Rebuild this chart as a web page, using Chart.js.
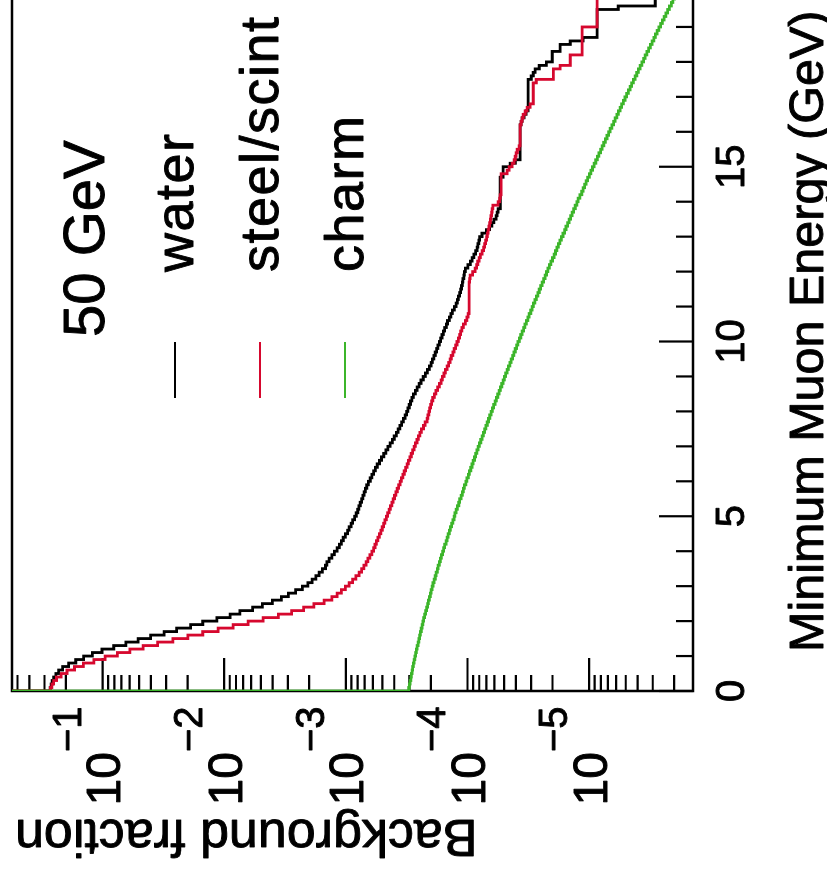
<!DOCTYPE html>
<html lang="en">
<head>
<meta charset="UTF-8">
<title>Background fraction vs minimum muon energy</title>
<style>
    html, body {
        margin: 0;
        padding: 0;
        background: #fff;
        overflow: hidden;
    }

    body {
        width: 827px;
        height: 873px;
        position: relative;
    }

    /* the plot is drawn upright, then turned a quarter turn like the scanned page */
    .plot {
        position: absolute;
        left: 0;
        top: 0;
        width: 900px;
        height: 827px;
        transform-origin: 0 0;
        transform: translate(0, 873px) rotate(-90deg);
    }
</style>
<script src="https://cdn.jsdelivr.net/npm/chart.js"></script>
</head>
<body>
<div class="plot"><canvas id="chart" width="900" height="827"></canvas></div>

<script>
    // Cumulative background fraction per 0.1 GeV bin of minimum muon energy (0 .. 20 GeV)
    const binWidth = 0.1;
    const underflowFraction = 1.0; // everything passes below the first bin

    const water = [
        0.274, 0.269, 0.265, 0.259, 0.252, 0.242, 0.230, 0.213, 0.190, 0.166,
        0.143, 0.121, 0.101, 0.0809, 0.0642, 0.0509, 0.0403, 0.0312, 0.0246, 0.0189,
        0.0150, 0.0115, 8.94e-3, 7.43e-3, 5.83e-3, 4.85e-3, 4.01e-3, 3.39e-3, 2.97e-3, 2.59e-3,
        2.28e-3, 2.05e-3, 1.89e-3, 1.76e-3, 1.66e-3, 1.56e-3, 1.47e-3, 1.43e-3, 1.37e-3, 1.30e-3,
        1.24e-3, 1.18e-3, 1.13e-3, 1.09e-3, 1.05e-3, 1.01e-3, 9.68e-4, 9.38e-4, 9.06e-4, 8.78e-4,
        8.48e-4, 8.21e-4, 7.98e-4, 7.80e-4, 7.61e-4, 7.43e-4, 7.25e-4, 7.07e-4, 6.90e-4, 6.73e-4,
        6.52e-4, 6.30e-4, 6.10e-4, 5.90e-4, 5.71e-4, 5.52e-4, 5.29e-4, 5.09e-4, 4.88e-4, 4.69e-4,
        4.51e-4, 4.32e-4, 4.15e-4, 4.00e-4, 3.84e-4, 3.72e-4, 3.60e-4, 3.48e-4, 3.37e-4, 3.26e-4,
        3.17e-4, 3.09e-4, 3.01e-4, 2.94e-4, 2.86e-4, 2.78e-4, 2.68e-4, 2.59e-4, 2.50e-4, 2.41e-4,
        2.31e-4, 2.22e-4, 2.14e-4, 2.06e-4, 1.99e-4, 1.94e-4, 1.89e-4, 1.84e-4, 1.79e-4, 1.75e-4,
        1.70e-4, 1.66e-4, 1.62e-4, 1.58e-4, 1.54e-4, 1.49e-4, 1.46e-4, 1.41e-4, 1.37e-4, 1.33e-4,
        1.28e-4, 1.24e-4, 1.21e-4, 1.19e-4, 1.16e-4, 1.14e-4, 1.12e-4, 1.10e-4, 1.09e-4, 1.07e-4,
        1.06e-4, 1.04e-4, 9.91e-5, 9.47e-5, 9.15e-5, 8.86e-5, 8.56e-5, 8.32e-5, 8.20e-5, 8.06e-5,
        7.94e-5, 7.60e-5, 6.99e-5, 6.59e-5, 6.31e-5, 6.06e-5, 5.81e-5, 5.70e-5, 5.59e-5, 5.38e-5,
        5.38e-5, 5.38e-5, 5.38e-5, 5.38e-5, 5.38e-5, 5.38e-5, 5.38e-5, 5.38e-5, 5.09e-5, 5.09e-5,
        5.09e-5, 4.46e-5, 4.05e-5, 3.69e-5, 3.69e-5, 3.69e-5, 3.69e-5, 3.69e-5, 3.69e-5, 3.69e-5,
        3.69e-5, 3.69e-5, 3.69e-5, 3.62e-5, 3.55e-5, 3.42e-5, 3.29e-5, 3.17e-5, 3.17e-5, 3.17e-5,
        3.17e-5, 3.17e-5, 3.17e-5, 3.17e-5, 3.17e-5, 3.17e-5, 2.99e-5, 2.88e-5, 2.78e-5, 2.57e-5,
        2.25e-5, 2.01e-5, 2.01e-5, 2.01e-5, 1.73e-5, 1.73e-5, 1.43e-5, 1.12e-5, 8.58e-6, 8.58e-6,
        8.58e-6, 8.58e-6, 8.58e-6, 8.58e-6, 8.58e-6, 8.58e-6, 5.76e-6, 2.86e-6, 2.86e-6, 2.86e-6
    ];

    const steelScint = [
        0.274, 0.268, 0.261, 0.252, 0.239, 0.219, 0.196, 0.170, 0.144, 0.118,
        0.0954, 0.0756, 0.0597, 0.0464, 0.0352, 0.0264, 0.0199, 0.0150, 0.0112, 8.45e-3,
        6.36e-3, 4.79e-3, 3.58e-3, 2.79e-3, 2.22e-3, 1.83e-3, 1.51e-3, 1.30e-3, 1.18e-3, 1.09e-3,
        1.01e-3, 9.41e-4, 8.81e-4, 8.28e-4, 7.79e-4, 7.43e-4, 7.11e-4, 6.82e-4, 6.58e-4, 6.35e-4,
        6.12e-4, 5.92e-4, 5.76e-4, 5.60e-4, 5.46e-4, 5.30e-4, 5.16e-4, 5.02e-4, 4.89e-4, 4.77e-4,
        4.64e-4, 4.53e-4, 4.41e-4, 4.31e-4, 4.19e-4, 4.09e-4, 3.98e-4, 3.88e-4, 3.78e-4, 3.68e-4,
        3.58e-4, 3.49e-4, 3.40e-4, 3.31e-4, 3.22e-4, 3.14e-4, 3.06e-4, 2.98e-4, 2.90e-4, 2.82e-4,
        2.75e-4, 2.68e-4, 2.60e-4, 2.53e-4, 2.46e-4, 2.39e-4, 2.30e-4, 2.23e-4, 2.15e-4, 2.12e-4,
        2.08e-4, 2.05e-4, 2.01e-4, 1.97e-4, 1.93e-4, 1.87e-4, 1.82e-4, 1.76e-4, 1.70e-4, 1.65e-4,
        1.61e-4, 1.56e-4, 1.52e-4, 1.47e-4, 1.43e-4, 1.39e-4, 1.36e-4, 1.32e-4, 1.29e-4, 1.25e-4,
        1.22e-4, 1.19e-4, 1.16e-4, 1.14e-4, 1.11e-4, 1.08e-4, 1.04e-4, 1.01e-4, 9.87e-5, 9.68e-5,
        9.68e-5, 9.68e-5, 9.68e-5, 9.68e-5, 9.68e-5, 9.68e-5, 9.68e-5, 9.68e-5, 9.59e-5, 9.50e-5,
        9.06e-5, 8.64e-5, 8.42e-5, 8.23e-5, 8.03e-5, 7.83e-5, 7.57e-5, 7.37e-5, 7.23e-5, 7.10e-5,
        6.97e-5, 6.85e-5, 6.76e-5, 6.67e-5, 6.58e-5, 6.49e-5, 6.42e-5, 6.34e-5, 6.27e-5, 6.18e-5,
        5.59e-5, 5.44e-5, 5.38e-5, 5.28e-5, 5.28e-5, 5.28e-5, 5.28e-5, 5.28e-5, 5.28e-5, 4.72e-5,
        4.54e-5, 4.29e-5, 4.13e-5, 4.05e-5, 3.98e-5, 3.90e-5, 3.76e-5, 3.69e-5, 3.69e-5, 3.69e-5,
        3.69e-5, 3.69e-5, 3.69e-5, 3.62e-5, 3.55e-5, 3.48e-5, 3.35e-5, 3.23e-5, 3.05e-5, 2.88e-5,
        2.88e-5, 2.88e-5, 2.88e-5, 2.88e-5, 2.88e-5, 2.72e-5, 1.97e-5, 1.97e-5, 1.97e-5, 1.73e-5,
        1.43e-5, 1.43e-5, 1.43e-5, 1.14e-5, 1.14e-5, 1.14e-5, 1.14e-5, 1.14e-5, 1.14e-5, 1.14e-5,
        1.14e-5, 8.58e-6, 8.58e-6, 8.58e-6, 8.58e-6, 8.58e-6, 8.58e-6, 8.58e-6, 8.58e-6, 8.58e-6
    ];

    const charm = [
        3.08e-4, 3.04e-4, 3.00e-4, 2.96e-4, 2.92e-4, 2.89e-4, 2.85e-4, 2.82e-4, 2.78e-4, 2.75e-4,
        2.71e-4, 2.67e-4, 2.63e-4, 2.59e-4, 2.55e-4, 2.51e-4, 2.47e-4, 2.44e-4, 2.40e-4, 2.36e-4,
        2.33e-4, 2.29e-4, 2.25e-4, 2.21e-4, 2.17e-4, 2.13e-4, 2.10e-4, 2.06e-4, 2.02e-4, 1.99e-4,
        1.95e-4, 1.92e-4, 1.88e-4, 1.84e-4, 1.81e-4, 1.77e-4, 1.74e-4, 1.70e-4, 1.67e-4, 1.64e-4,
        1.60e-4, 1.57e-4, 1.54e-4, 1.50e-4, 1.47e-4, 1.44e-4, 1.41e-4, 1.38e-4, 1.35e-4, 1.32e-4,
        1.29e-4, 1.27e-4, 1.24e-4, 1.21e-4, 1.18e-4, 1.16e-4, 1.13e-4, 1.10e-4, 1.08e-4, 1.06e-4,
        1.03e-4, 1.01e-4, 9.85e-5, 9.63e-5, 9.40e-5, 9.18e-5, 8.97e-5, 8.76e-5, 8.56e-5, 8.36e-5,
        8.17e-5, 7.97e-5, 7.78e-5, 7.59e-5, 7.41e-5, 7.23e-5, 7.05e-5, 6.88e-5, 6.72e-5, 6.56e-5,
        6.40e-5, 6.24e-5, 6.09e-5, 5.93e-5, 5.79e-5, 5.64e-5, 5.50e-5, 5.37e-5, 5.23e-5, 5.10e-5,
        4.98e-5, 4.85e-5, 4.73e-5, 4.61e-5, 4.49e-5, 4.38e-5, 4.26e-5, 4.16e-5, 4.05e-5, 3.95e-5,
        3.85e-5, 3.75e-5, 3.65e-5, 3.55e-5, 3.46e-5, 3.37e-5, 3.28e-5, 3.19e-5, 3.11e-5, 3.02e-5,
        2.94e-5, 2.87e-5, 2.79e-5, 2.71e-5, 2.64e-5, 2.57e-5, 2.50e-5, 2.43e-5, 2.37e-5, 2.30e-5,
        2.24e-5, 2.18e-5, 2.12e-5, 2.06e-5, 2.00e-5, 1.94e-5, 1.89e-5, 1.84e-5, 1.79e-5, 1.74e-5,
        1.69e-5, 1.64e-5, 1.59e-5, 1.55e-5, 1.50e-5, 1.46e-5, 1.42e-5, 1.38e-5, 1.34e-5, 1.30e-5,
        1.26e-5, 1.23e-5, 1.19e-5, 1.15e-5, 1.12e-5, 1.09e-5, 1.06e-5, 1.03e-5, 9.95e-6, 9.66e-6,
        9.38e-6, 9.10e-6, 8.82e-6, 8.56e-6, 8.30e-6, 8.05e-6, 7.81e-6, 7.58e-6, 7.35e-6, 7.13e-6,
        6.92e-6, 6.71e-6, 6.50e-6, 6.30e-6, 6.11e-6, 5.92e-6, 5.74e-6, 5.57e-6, 5.40e-6, 5.23e-6,
        5.07e-6, 4.91e-6, 4.76e-6, 4.61e-6, 4.47e-6, 4.33e-6, 4.19e-6, 4.06e-6, 3.93e-6, 3.81e-6,
        3.69e-6, 3.57e-6, 3.46e-6, 3.35e-6, 3.24e-6, 3.14e-6, 3.04e-6, 2.94e-6, 2.85e-6, 2.76e-6,
        2.67e-6, 2.58e-6, 2.50e-6, 2.42e-6, 2.34e-6, 2.26e-6, 2.19e-6, 2.11e-6, 2.05e-6, 1.98e-6
    ];

    // axis ticks and labels
    const energyMajorTicks = [0, 5, 10, 15, 20];
    const energyTickLabels = ['0', '5', '10', '15'];
    const fractionDecades = [-1, -2, -3, -4, -5];
    const fractionTickLabels = ['\u22121', '\u22122', '\u22123', '\u22124', '\u22125'];

    const legendHeader = '50 GeV';
    const seriesNames = ['water', 'steel/scint', 'charm'];
    const seriesColors = ['#000000', '#d6082e', '#3cb52a'];

    const FONT = '"Liberation Sans", Arial, Helvetica, sans-serif';

    // bin low edges, then one closing point so the last bin gets its full width
    function histPoints(values) {
        const pts = [{ x: 0, y: underflowFraction }];
        values.forEach((v, i) => pts.push({ x: +(i * binWidth).toFixed(1), y: v }));
        pts.push({ x: +(values.length * binWidth).toFixed(1), y: values[values.length - 1] });
        return pts;
    }

    // fill plus a thin outline, the scanned lettering is a bit heavier than plain Liberation
    function heavyText(ctx, txt, x, y) {
        ctx.fillText(txt, x, y);
        ctx.strokeText(txt, x, y);
    }

    // ROOT style frame: ticks pointing into the frame
    const frameAndTicks = {
        id: 'frameAndTicks',
        beforeDatasetsDraw(chart) {
            const { ctx, chartArea: a, scales: { x, y } } = chart;
            ctx.save();
            ctx.strokeStyle = '#000';
            ctx.lineWidth = 2.5;
            ctx.strokeRect(a.left, a.top, a.right - a.left, a.bottom - a.top);

            ctx.lineWidth = 2.2;
            ctx.beginPath();
            for (let e = x.min; e <= x.max; e++) {
                const px = x.getPixelForValue(e);
                const len = energyMajorTicks.includes(e) ? 34 : 17;
                ctx.moveTo(px, a.bottom);
                ctx.lineTo(px, a.bottom - len);
            }
            for (let p = -7; p <= 0; p++) {
                for (let k = 1; k <= 9; k++) {
                    const v = k * Math.pow(10, p);
                    if (v < y.min || v > y.max) continue;
                    const py = y.getPixelForValue(v);
                    const len = k === 1 ? 33 : 16;
                    ctx.moveTo(a.left, py);
                    ctx.lineTo(a.left + len, py);
                }
            }
            ctx.stroke();
            ctx.restore();
        },
        afterDraw(chart) {
            const { ctx, chartArea: a, scales: { x, y } } = chart;
            ctx.save();
            ctx.fillStyle = '#000';
            ctx.strokeStyle = '#000';
            ctx.lineWidth = 0.9;
            ctx.lineJoin = 'round';

            // energy labels
            ctx.font = '40px ' + FONT;
            ctx.textAlign = 'center';
            ctx.textBaseline = 'alphabetic';
            energyTickLabels.forEach((lab, i) => {
                heavyText(ctx, lab, x.getPixelForValue(energyMajorTicks[i]), a.bottom + 51);
            });

            // 10^n labels
            fractionDecades.forEach((d, i) => {
                const py = y.getPixelForValue(Math.pow(10, d));
                const split = a.left - 61;
                ctx.font = '48px ' + FONT;
                ctx.textAlign = 'right';
                heavyText(ctx, '10', split, py + 17.5);
                ctx.font = '40px ' + FONT;
                ctx.textAlign = 'left';
                heavyText(ctx, fractionTickLabels[i], split, py - 22);
            });

            // axis titles
            ctx.font = '48.5px ' + FONT;
            ctx.textAlign = 'left';
            heavyText(ctx, 'Minimum Muon Energy (GeV)', 221, 823);

            ctx.save();
            ctx.translate(53, 15);
            ctx.rotate(-Math.PI / 2);
            ctx.font = '52px ' + FONT;
            ctx.textAlign = 'right';
            heavyText(ctx, 'Background fraction', 0, 0);
            ctx.restore();

            // legend
            ctx.font = '58px ' + FONT;
            ctx.textAlign = 'left';
            heavyText(ctx, legendHeader, 536, 104);
            ctx.font = '54px ' + FONT;
            ctx.letterSpacing = '1.5px';
            seriesNames.forEach((name, i) => {
                const ly = 175 + i * 85;
                ctx.save();
                ctx.strokeStyle = seriesColors[i];
                ctx.lineWidth = 2.2;
                ctx.beginPath();
                ctx.moveTo(475, ly);
                ctx.lineTo(531, ly);
                ctx.stroke();
                ctx.restore();
                heavyText(ctx, name, 601, ly + 18);
            });
            ctx.restore();
        }
    };

    const seriesValues = [water, steelScint, charm];

    new Chart(document.getElementById('chart'), {
        type: 'line',
        data: {
            datasets: seriesValues.map((vals, i) => ({
                label: seriesNames[i],
                data: histPoints(vals),
                borderColor: seriesColors[i],
                borderWidth: 2.8,
                stepped: 'after',
                pointRadius: 0,
                fill: false,
                // charm drawn on top, then steel/scint, then water
                order: 2 - i
            }))
        },
        options: {
            responsive: false,
            animation: false,
            devicePixelRatio: 1,
            layout: { padding: { left: 182, top: 12, right: 19, bottom: 134 } },
            plugins: {
                legend: { display: false },
                tooltip: { enabled: false }
            },
            scales: {
                x: { type: 'linear', min: 0, max: 20, display: false },
                y: { type: 'logarithmic', min: 1.4e-6, max: 0.555, display: false }
            }
        },
        plugins: [frameAndTicks]
    });
</script>
</body>
</html>
